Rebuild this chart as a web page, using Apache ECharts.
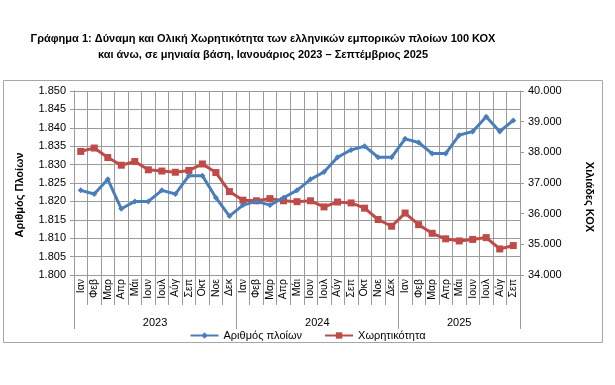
<!DOCTYPE html>
<html>
<head>
<meta charset="utf-8">
<script src="https://cdn.jsdelivr.net/npm/echarts@6/dist/echarts.min.js"></script>
<style>html,body{margin:0;padding:0;background:#fff;}#c{width:615px;height:385px;}</style>
</head>
<body>
<div id="c"></div>
<script>
const monthNames = ['Ιαν','Φεβ','Μαρ','Απρ','Μάι','Ιουν','Ιουλ','Αύγ','Σεπ','Οκτ','Νοε','Δεκ'];
const years = ['2023', '2024', '2025'];
const monthsPerYear = [12, 12, 9];
const categories = [];
years.forEach((y, k) => { for (let m = 0; m < monthsPerYear[k]; m++) categories.push(monthNames[m]); });

// Αριθμός πλοίων (left axis)
const ships = [1823,1822,1826,1818,1820,1820,1823,1822,1827,1827,1821,1816,
               1819,1820,1819,1821,1823,1826,1828,1832,1834,1835,1832,1832,
               1837,1836,1833,1833,1838,1839,1843,1839,1842];
// Χωρητικότητα, χιλιάδες ΚΟΧ (right axis)
const capacity = [38030,38140,37830,37580,37700,37430,37390,37350,37410,37620,37340,36720,
                  36440,36420,36490,36420,36390,36420,36220,36380,36350,36180,35810,35590,
                  36020,35640,35360,35180,35110,35160,35220,34850,34960];

const leftTicks = {min: 1800, max: 1850, interval: 5};
const rightTicks = {min: 34000, max: 40000, interval: 1000};

const yearBounds = [0];
monthsPerYear.forEach(n => yearBounds.push(yearBounds[yearBounds.length - 1] + n));
const yearCenters = years.map((y, k) => (yearBounds[k] + yearBounds[k + 1]) / 2);

const fmt = v => (v / 1000).toFixed(3);
const FONT = 'Liberation Sans';
const gridCol = '#9a9a9a';

const chart = echarts.init(document.getElementById('c'), null, {renderer: 'canvas'});
chart.setOption({
  animation: false,
  textStyle: {fontFamily: FONT},
  title: {
    text: 'Γράφημα 1: Δύναμη και Ολική Χωρητικότητα των ελληνικών εμπορικών πλοίων 100 ΚΟΧ\nκαι άνω, σε μηνιαία βάση, Ιανουάριος 2023 – Σεπτέμβριος 2025',
    left: 258, top: 26, textAlign: 'center',
    textStyle: {fontFamily: FONT, fontSize: 11, fontWeight: 'bold', color: '#000', lineHeight: 16}
  },
  graphic: [
    {type: 'rect', shape: {x: 3.5, y: 80.5, width: 599, height: 262}, style: {fill: 'none', stroke: '#a6a6a6', lineWidth: 1}, z: -1},
    {type: 'text', x: 20, y: 195, rotation: Math.PI / 2,
     style: {text: 'Αριθμός Πλοίων', fontFamily: FONT, fontSize: 11, fontWeight: 'bold', fill: '#000', align: 'center', verticalAlign: 'middle'}},
    {type: 'text', x: 589, y: 197, rotation: -Math.PI / 2,
     style: {text: 'Χιλιάδες ΚΟΧ', fontFamily: FONT, fontSize: 11, fontWeight: 'bold', fill: '#000', align: 'center', verticalAlign: 'middle'}}
  ],
  legend: {
    bottom: 39, left: 'center', itemWidth: 28, itemHeight: 8, itemGap: 22,
    textStyle: {fontFamily: FONT, fontSize: 11, color: '#000'},
    data: ['Αριθμός πλοίων', 'Χωρητικότητα']
  },
  grid: {left: 74, right: 95, top: 91, bottom: 110},
  xAxis: [
    {
      type: 'category', data: categories, boundaryGap: true,
      axisLine: {lineStyle: {color: gridCol}},
      axisTick: {show: true, interval: 0, length: 30, lineStyle: {color: gridCol}},
      axisLabel: {interval: 0, rotate: 90, margin: 4, fontSize: 10.5, color: '#000', fontFamily: FONT},
      splitLine: {show: true, interval: 0, lineStyle: {color: gridCol}}
    },
    {
      type: 'value', min: 0, max: yearBounds[yearBounds.length - 1], position: 'bottom',
      axisLine: {show: false},
      axisTick: {show: true, customValues: yearBounds, length: 54, lineStyle: {color: gridCol}},
      axisLabel: {show: true, customValues: yearCenters, margin: 42, fontSize: 11, color: '#000', fontFamily: FONT,
        formatter: v => { const k = yearCenters.indexOf(v); return k >= 0 ? years[k] : ''; }},
      splitLine: {show: false}
    }
  ],
  yAxis: [
    {
      type: 'value', min: leftTicks.min, max: leftTicks.max, interval: leftTicks.interval,
      axisLine: {show: true, lineStyle: {color: gridCol}},
      axisTick: {show: true, length: 4, lineStyle: {color: gridCol}},
      axisLabel: {formatter: fmt, margin: 8, fontSize: 11, color: '#000', fontFamily: FONT},
      splitLine: {show: true, lineStyle: {color: gridCol}}
    },
    {
      type: 'value', min: rightTicks.min, max: rightTicks.max, interval: rightTicks.interval,
      axisLine: {show: true, lineStyle: {color: gridCol}},
      axisTick: {show: true, length: 4, lineStyle: {color: gridCol}},
      axisLabel: {formatter: fmt, margin: 8, fontSize: 11, color: '#000', fontFamily: FONT},
      splitLine: {show: false}
    }
  ],
  series: [
    {
      name: 'Αριθμός πλοίων', type: 'line', data: ships, xAxisIndex: 0, yAxisIndex: 0,
      symbol: 'diamond', symbolSize: 6, showSymbol: true,
      lineStyle: {color: '#4a7ebb', width: 3}, itemStyle: {color: '#4a7ebb'}, z: 3
    },
    {
      name: 'Χωρητικότητα', type: 'line', data: capacity, xAxisIndex: 0, yAxisIndex: 1,
      symbol: 'rect', symbolSize: 7, showSymbol: true,
      lineStyle: {color: '#be4b48', width: 3}, itemStyle: {color: '#be4b48'}, z: 2
    }
  ]
});
</script>
</body>
</html>
